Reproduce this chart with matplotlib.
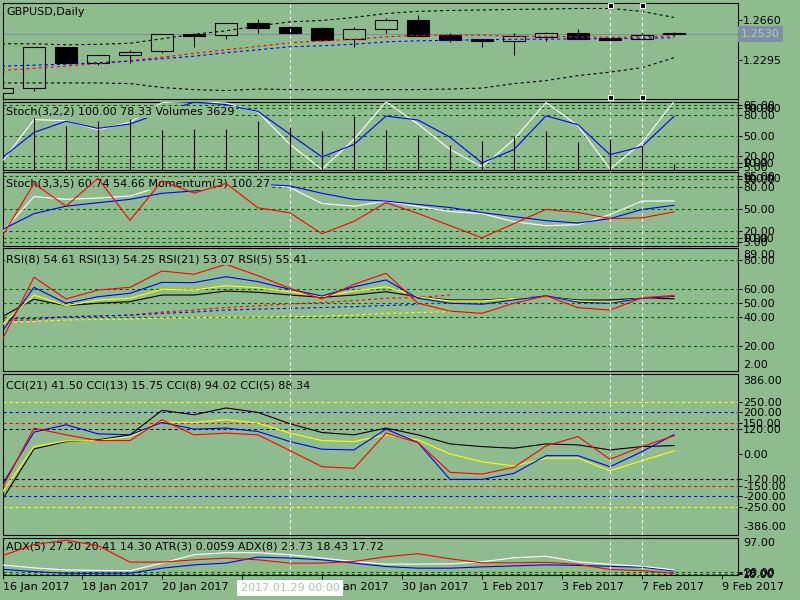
import matplotlib
matplotlib.use("Agg")
import matplotlib.pyplot as plt
import numpy as np
from matplotlib.patches import Rectangle

plt.rcParams['font.family'] = ['DejaVu Sans']
plt.rcParams['font.size'] = 8
plt.rcParams['lines.scale_dashes'] = False

BG = '#8FBC8F'
LVL = '#006400'
LW = 0.8
DASH = (0, (2.2, 2.2))

# ---------------- data ----------------
tick_pos = [0.03, 2.5, 5, 7.5, 10, 12.5, 15, 17.5, 20, 22.5]
tick_labels = ['16 Jan 2017', '18 Jan 2017', '20 Jan 2017', '24 Jan 2017', '26 Jan 2017',
               '30 Jan 2017', '1 Feb 2017', '3 Feb 2017', '7 Feb 2017', '9 Feb 2017']

opens = [1.1991, 1.2037, 1.2414, 1.2265, 1.2338, 1.2371, 1.2535, 1.2523, 1.2633, 1.2596, 1.2587,
         1.2484, 1.2575, 1.2660, 1.2523, 1.2487, 1.2462, 1.2502, 1.2541, 1.2496, 1.2484, 1.2540]
highs = [1.2037, 1.2411, 1.2414, 1.2341, 1.2380, 1.2530, 1.2537, 1.2630, 1.2669, 1.2600, 1.2599,
         1.2596, 1.2681, 1.2706, 1.2539, 1.2487, 1.2544, 1.2553, 1.2578, 1.2503, 1.2541, 1.2551]
lows = [1.1991, 1.2006, 1.2265, 1.2243, 1.2268, 1.2356, 1.2407, 1.2487, 1.2544, 1.2540, 1.2468,
        1.2407, 1.2539, 1.2517, 1.2453, 1.2416, 1.2334, 1.2468, 1.2489, 1.2475, 1.2484, 1.2508]
closes = [1.2037, 1.2411, 1.2265, 1.2341, 1.2365, 1.2530, 1.2508, 1.2630, 1.2590, 1.2544, 1.2478,
          1.2575, 1.2657, 1.2517, 1.2475, 1.2462, 1.2514, 1.2539, 1.2489, 1.2480, 1.2526, 1.2530]
bid = 1.2530

bb_upper = [1.2441, 1.2441, 1.2432, 1.2436, 1.2446, 1.2487, 1.2528, 1.2560, 1.2605, 1.2642, 1.2655,
            1.2683, 1.2719, 1.2738, 1.2747, 1.2751, 1.2756, 1.2760, 1.2765, 1.2765, 1.2738, 1.2683]
bb_lower = [1.2082, 1.2082, 1.2082, 1.2082, 1.2076, 1.2040, 1.2021, 1.2012, 1.2026, 1.2021, 1.2021,
            1.2021, 1.2021, 1.2021, 1.2026, 1.2035, 1.2076, 1.2103, 1.2149, 1.2181, 1.2222, 1.2313]
ma_red = [1.2195, 1.2217, 1.2236, 1.2259, 1.2286, 1.2318, 1.2354, 1.2386, 1.2418, 1.2450, 1.2468,
          1.2482, 1.2505, 1.2519, 1.2523, 1.2519, 1.2510, 1.2510, 1.2505, 1.2501, 1.2505, 1.2514]
ma_blue = [1.2236, 1.2245, 1.2254, 1.2268, 1.2281, 1.2304, 1.2327, 1.2359, 1.2386, 1.2414, 1.2423,
           1.2437, 1.2459, 1.2468, 1.2473, 1.2478, 1.2483, 1.2483, 1.2487, 1.2487, 1.2492, 1.2496]

volumes = [19000, 33000, 27580, 30580, 31850, 25030, 25480, 25480, 30580, 26750, 24210,
           33570, 25030, 21660, 15290, 17840, 21020, 24210, 17390, 19110, 14840, 3629]
stoch1_main = [11.9, 73.6, 72.0, 58.7, 69.7, 98.5, 100.0, 97.8, 84.6, 37.3, 1.0,
               44.8, 99.5, 67.0, 30.0, 4.5, 44.8, 98.5, 64.6, 1.5, 39.9, 100.0]
stoch1_signal = [17.5, 54.8, 71.2, 60.7, 67.2, 84.0, 99.0, 95.5, 85.5, 52.2, 19.0,
                 37.3, 78.7, 73.0, 48.0, 10.4, 29.9, 79.1, 66.1, 22.4, 34.3, 78.33]

stoch2_main = [17.7, 66.5, 62.8, 64.6, 67.3, 80.7, 82.0, 83.4, 84.8, 78.9, 57.2,
               53.5, 60.4, 53.1, 46.2, 43.4, 32.4, 26.9, 28.3, 42.1, 60.4, 60.74]
stoch2_signal = [21.4, 43.4, 53.5, 58.2, 62.8, 71.0, 74.2, 80.3, 83.4, 81.1, 71.0,
                 62.8, 60.4, 55.9, 51.7, 44.8, 39.3, 33.8, 30.6, 36.6, 49.0, 54.66]
momentum = [99.05, 101.67, 100.55, 101.92, 99.85, 101.80, 101.19, 101.67, 100.47, 100.22, 99.19,
            99.80, 100.72, 100.19, 99.59, 98.99, 99.69, 100.39, 100.24, 99.94, 99.97, 100.27]

rsi5 = [24.0, 68.2, 52.9, 59.2, 61.1, 72.6, 70.3, 77.3, 69.3, 60.4, 52.9,
        63.2, 71.0, 49.9, 44.4, 42.8, 49.9, 55.2, 46.8, 45.1, 53.8, 55.41]
rsi8 = [29.9, 61.1, 49.9, 54.5, 56.9, 64.6, 64.4, 68.6, 65.1, 59.7, 55.0,
        61.5, 66.3, 53.4, 49.9, 49.2, 52.2, 55.2, 50.6, 49.9, 53.4, 54.61]
rsi13 = [34.6, 55.7, 48.2, 52.2, 53.4, 59.7, 59.2, 62.3, 60.8, 58.0, 54.5,
         58.5, 61.5, 54.5, 51.5, 51.5, 53.4, 54.5, 51.5, 50.6, 53.4, 54.25]
rsi21 = [40.4, 52.7, 48.2, 49.9, 51.0, 55.7, 55.7, 58.5, 57.6, 55.7, 54.1,
         55.7, 58.0, 54.5, 52.2, 52.2, 53.4, 54.5, 52.2, 52.2, 53.4, 53.07]
rsi_ma_red = [37.5, 38.2, 40.4, 40.9, 41.6, 43.7, 45.1, 46.9, 48.2, 49.4, 50.4, 51.8, 53.4, 53.9, 55.7]
rsi_ma_blue = [38.8, 39.2, 40.4, 40.9, 41.6, 42.8, 43.7, 45.1, 45.8, 46.3, 46.9, 47.5, 48.3, 49.0]
rsi_ma_yellow = [36.5, 37.0, 38.1, 38.5, 38.8, 39.5, 39.7, 40.0, 40.2, 40.4, 40.9, 41.6, 42.8, 43.4, 43.9]

cci21 = [-219.7, 25.5, 60.6, 68.8, 92.8, 209.6, 188.9, 221.2, 200.0, 145.7, 103.8,
         92.8, 125.0, 92.8, 49.5, 36.5, 28.8, 49.5, 44.7, 20.7, 36.5, 41.50]
cci13 = [-184.6, 36.5, 63.9, 65.4, 84.6, 153.8, 151.9, 164.9, 149.0, 101.0, 65.4,
         60.6, 92.8, 68.8, 1.4, -35.6, -56.3, -19.2, -19.2, -78.8, -30.8, 15.75]
cci8 = [-147.6, 105.8, 140.9, 97.6, 92.8, 151.9, 120.2, 125.0, 108.7, 60.6, 24.0,
        20.7, 120.2, 55.8, -120.2, -120.2, -91.3, -6.7, -6.7, -59.6, 12.5, 94.02]
cci5 = [-163.5, 125.0, 92.8, 65.4, 65.4, 164.9, 92.8, 101.0, 92.8, 17.3, -59.6,
        -67.3, 101.0, 55.8, -86.5, -94.7, -62.5, 39.9, 84.6, -24.0, 36.5, 88.34]

# ADX window (values on the window's own 0..97 display scale)
adx_red = [49.8, 78.6, 89.9, 76.0, 33.3, 33.3, 39.3, 43.8, 39.3, 30.7, 30.7,
           34.9, 47.2, 55.1, 41.9, 31.5, 31.5, 32.8, 27.5, 14.4, 11.3, 4.5]
adx_white = [26.2, 18.4, 13.1, 11.8, 11.3, 30.7, 52.4, 57.7, 57.7, 52.4, 43.8,
             34.9, 28.1, 28.1, 28.8, 34.1, 44.6, 48.5, 34.1, 27.5, 22.8, 13.1]
adx_blue = [14.9, 8.7, 4.5, 4.5, 4.5, 17.6, 26.2, 30.7, 46.4, 43.8, 39.3,
            30.7, 21.8, 17.6, 17.6, 21.0, 23.6, 26.2, 24.9, 22.3, 20.2, 10.5]
atr_line = [10.5, 10.5, 10.5, 10.5, 10.5, 14.4, 17.6, 17.6, 17.6, 17.6, 17.6,
            17.6, 17.6, 14.4, 14.4, 14.4, 14.4, 14.4, 14.4, 14.4, 14.4, 14.4]

stoch_levels = [95, 90, 80, 50, 20, 10, 5]
rsi_levels = [80, 60, 50, 40, 20]
cci_levels = [(250, '#FFFF00'), (200, '#0000FF'), (150, '#FF0000'), (120, '#000000'),
              (-120, '#000000'), (-150, '#FF0000'), (-200, '#0000FF'), (-250, '#FFFF00')]
cci_ticks = [250, 200, 150, 120, 0, -120, -150, -200, -250]
adx_levels = [3, 8]
adx_tick_labels = ['10.00', '18.00', '20.00']
adx_tick_vals = [3, 5.5, 8]

crosshair_bar = 9
vline_bars = [19, 20]

# ---------------- layout ----------------
W, H = 800, 600
LEFT, RIGHT = 3, 738
XMIN, XMAX = 1 / 32, 23.0
x = np.arange(len(closes))

fig = plt.figure(figsize=(8, 6), dpi=100, facecolor=BG)


def right_ticks(ax):
    ax.yaxis.tick_right()
    ax.yaxis.set_label_position('right')
    ax.tick_params(axis='y', which='both', left=False, labelleft=False, right=True, labelright=True,
                   direction='out', length=2.9, width=0.7, pad=0.8, labelsize=8, colors='black')


def panel(top, bottom, ylim):
    ax = fig.add_axes([LEFT / W, 1 - bottom / H, (RIGHT - LEFT) / W, (bottom - top) / H])
    ax.set_facecolor(BG)
    ax.set_xlim(XMIN, XMAX)
    ax.set_ylim(*ylim)
    for s in ax.spines.values():
        s.set_color('black')
        s.set_linewidth(0.8)
    ax.tick_params(axis='x', bottom=False, labelbottom=False)
    right_ticks(ax)
    ax.set_yticks([])
    ax._px = (top, bottom)
    for b in [crosshair_bar] + vline_bars:
        ax.axvline(b, color='white', lw=LW, ls=DASH, zorder=6)
    return ax


def twin(ax, ylim):
    t = ax.twinx()
    right_ticks(ax)
    t.set_ylim(*ylim)
    t.set_xlim(XMIN, XMAX)
    t.set_yticks([])
    t.tick_params(axis='y', left=False, right=False, labelleft=False, labelright=False)
    for s in t.spines.values():
        s.set_visible(False)
    t._px = ax._px
    return t


def label(ax, px, py, s, bg=True, z=5):
    top, bottom = ax._px
    kw = {}
    if bg:
        kw['bbox'] = dict(facecolor=BG, edgecolor='none', pad=1.0)
    ax.text((px - LEFT) / (RIGHT - LEFT), (bottom - py) / (bottom - top), s,
            transform=ax.transAxes, ha='left', va='center', fontsize=8,
            color='black', zorder=z, **kw)


def side_text(ax, py, s):
    top, bottom = ax._px
    ax.text(1 + 5 / (RIGHT - LEFT), (bottom - py) / (bottom - top), s,
            transform=ax.transAxes, ha='left', va='center', fontsize=8,
            color='black', clip_on=False)


def levels(ax, vals, color=LVL):
    for v in vals:
        ax.axhline(v, color=color, lw=LW, ls=DASH, zorder=1)


# ---- main price panel ----
axm = panel(3, 99.5, (1.1930, 1.28151))
axm.axhline(bid, color='#7F8FA6', lw=LW, zorder=1)
for i in x:
    o, h, l, c = opens[i], highs[i], lows[i], closes[i]
    axm.vlines(i, l, h, color='black', lw=LW, zorder=3)
    bull = c >= o
    axm.add_patch(Rectangle((i - 0.34, min(o, c)), 0.68, max(abs(c - o), 0.00012),
                            facecolor=BG if bull else 'black', edgecolor='black',
                            lw=LW, zorder=4))
axm.plot(x, bb_upper, color='black', lw=LW, ls=DASH, zorder=5)
axm.plot(x, bb_lower, color='black', lw=LW, ls=DASH, zorder=5)
axm.plot(x, ma_red, color='#FF0000', lw=LW, ls=DASH, zorder=5)
axm.plot(x, ma_blue, color='#0000FF', lw=LW, ls=DASH, zorder=5)
axm.set_yticks([1.2660, 1.2295])
axm.set_yticklabels(['1.2660', '1.2295'])
axm.text(1 + 3 / (RIGHT - LEFT), bid, '1.2530', transform=axm.get_yaxis_transform(),
         ha='left', va='center', fontsize=8, color='#A9D3A9', clip_on=False,
         bbox=dict(boxstyle='square,pad=0.3', facecolor='#7F8FA6', edgecolor='none'))
label(axm, 6, 12, 'GBPUSD,Daily', bg=False)
for b in vline_bars:
    axm.plot([b, b], [0.975, 0.03], transform=axm.get_xaxis_transform(), ls='none',
             marker='s', ms=3.6, mfc='black', mec='white', mew=0.8, zorder=8, clip_on=False)

# ---- stochastic (3,2,2) + volumes ----
ax1 = panel(101.5, 170, (0, 100))
vax = twin(ax1, (0, 42680))
levels(ax1, stoch_levels)
ax1.plot(x, stoch1_main, color='white', lw=LW, zorder=3)
ax1.plot(x, stoch1_signal, color='#0000FF', lw=LW, zorder=3)
ax1.set_yticks(stoch_levels)
ax1.set_yticklabels(['%.2f' % v for v in stoch_levels])
side_text(ax1, 109.5, '100.00')
side_text(ax1, 163.5, '0.00')
vax.vlines(x, 0, volumes, color='black', lw=LW, zorder=2)
label(vax, 6, 112, 'Stoch(3,2,2) 100.00 78.33 Volumes 3629')

# ---- stochastic (3,3,5) + momentum ----
ax2 = panel(172, 245.5, (0, 100))
max2 = twin(ax2, (98.61, 102.235))
levels(ax2, stoch_levels)
ax2.plot(x, stoch2_main, color='white', lw=LW, zorder=3)
ax2.plot(x, stoch2_signal, color='#0000FF', lw=LW, zorder=3)
ax2.set_yticks(stoch_levels)
ax2.set_yticklabels(['%.2f' % v for v in stoch_levels])
side_text(ax2, 179.5, '100.00')
side_text(ax2, 238.5, '0.00')
label(ax2, 6, 183.5, 'Stoch(3,3,5) 60.74 54.66 Momentum(3) 100.27')
max2.plot(x, momentum, color='#FF0000', lw=LW, zorder=4)

# ---- RSI ----
ax3 = panel(247.7, 371.3, (2, 89))
levels(ax3, rsi_levels)
ax3.plot(np.arange(len(rsi_ma_red)), rsi_ma_red, color='#FF0000', lw=LW, ls=DASH, zorder=2)
ax3.plot(np.arange(len(rsi_ma_blue)), rsi_ma_blue, color='#0000FF', lw=LW, ls=DASH, zorder=2)
ax3.plot(np.arange(len(rsi_ma_yellow)), rsi_ma_yellow, color='#FFFF00', lw=LW, ls=DASH, zorder=2)
ax3.plot(x, rsi21, color='black', lw=LW, zorder=3)
ax3.plot(x, rsi13, color='#FFFF00', lw=LW, zorder=3)
ax3.plot(x, rsi8, color='#0000FF', lw=LW, zorder=3)
ax3.plot(x, rsi5, color='#FF0000', lw=LW, zorder=3)
ax3.set_yticks(rsi_levels)
ax3.set_yticklabels(['%.2f' % v for v in rsi_levels])
side_text(ax3, 255, '89.00')
side_text(ax3, 364.5, '2.00')
label(ax3, 6, 259, 'RSI(8) 54.61 RSI(13) 54.25 RSI(21) 53.07 RSI(5) 55.41')

# ---- CCI ----
ax4 = panel(373.5, 535, (-386, 386))
for v, col in cci_levels:
    ax4.axhline(v, color=col, lw=LW, ls=DASH, zorder=1)
ax4.plot(x, cci21, color='black', lw=LW, zorder=3)
ax4.plot(x, cci13, color='#FFFF00', lw=LW, zorder=3)
ax4.plot(x, cci8, color='#0000FF', lw=LW, zorder=3)
ax4.plot(x, cci5, color='#FF0000', lw=LW, zorder=3)
ax4.set_yticks(cci_ticks)
ax4.set_yticklabels(['%.2f' % v for v in cci_ticks])
side_text(ax4, 380.7, '386.00')
side_text(ax4, 526.7, '-386.00')
label(ax4, 6, 385, 'CCI(21) 41.50 CCI(13) 15.75 CCI(8) 94.02 CCI(5) 88.34')

# ---- ADX / ATR ----
ax5 = panel(537.5, 575, (0, 97))
levels(ax5, adx_levels)
ax5.plot(x, atr_line, color='#9ACD32', lw=LW, ls=DASH, zorder=2)
label(ax5, 6, 546.5, 'ADX(5) 27.20 20.41 14.30 ATR(3) 0.0059 ADX(8) 23.73 18.43 17.72', bg=False, z=2)
ax5.plot(x, adx_blue, color='#0000FF', lw=LW, zorder=3)
ax5.plot(x, adx_white, color='white', lw=LW, zorder=3)
ax5.plot(x, adx_red, color='#FF0000', lw=LW, zorder=3)
ax5.set_yticks(adx_tick_vals)
ax5.set_yticklabels(adx_tick_labels)
side_text(ax5, 543.5, '97.00')
ax5.tick_params(axis='x', bottom=True, labelbottom=True, direction='out', length=3.2,
                width=0.7, pad=1.5, labelsize=8, colors='black')
ax5.set_xticks(tick_pos)
ax5.set_xticklabels(tick_labels)
for t in ax5.get_xticklabels():
    t.set_ha('left')

# crosshair date tooltip
fig.text(290 / W, 1 - 588 / H, '2017.01.29 00:00', ha='center', va='center', fontsize=8,
         color='#A3CBA3', bbox=dict(boxstyle='square,pad=0.3', facecolor='white', edgecolor='none'))

fig.savefig('out.png', dpi=100, facecolor=BG)
